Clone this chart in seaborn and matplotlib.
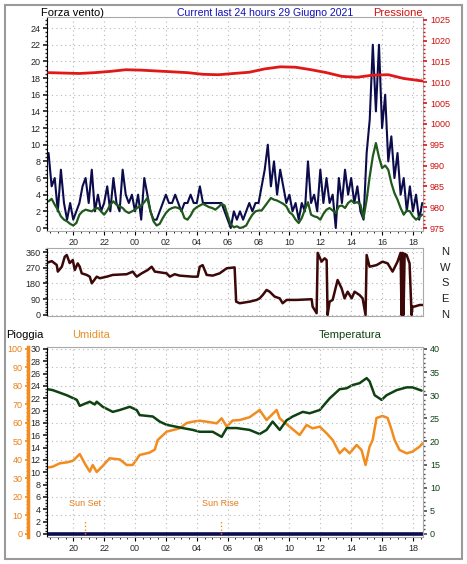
import numpy as np
import pandas as pd
import matplotlib
matplotlib.use("Agg")
import matplotlib.pyplot as plt
import matplotlib.transforms as mtransforms
from matplotlib.ticker import MultipleLocator
from matplotlib.patches import Rectangle
import seaborn as sns

sns.set_theme(style="white")
plt.rcParams["font.family"] = ["Liberation Sans", "DejaVu Sans"]

# ---- data (hours counted from midnight of 28 June, so 24 = 00:00 on the 29th)
wind_hours = np.linspace(18.4, 42.6, 122)
gust = [9, 5, 6, 2, 7, 3, 1, 3, 1, 2, 3, 5, 6, 3, 7, 2, 4, 2, 3, 5,
        2, 6, 3, 2, 7, 4, 3, 4, 2, 4, 1, 6, 4, 2, 1, 1, 2, 3, 4, 3,
        3, 4, 3, 2, 3, 3, 4, 3, 3, 5, 3, 3, 3, 3, 3, 3, 3, 2, 1, 0,
        2, 1, 2, 1, 2, 3, 2, 3, 3, 5, 7, 10, 5, 8, 4, 7, 5, 3, 4, 2,
        3, 1, 3, 2, 8, 3, 4, 2, 7, 3, 6, 3, 4, 0, 6, 3, 7, 4, 6, 3,
        5, 2, 1, 9, 13, 22, 14, 22, 12, 16, 8, 11, 6, 9, 4, 6, 2, 5, 2, 4,
        1, 3]
wind_avg = [3.2, 3.5, 2.8, 2.2, 1.4, 1.0, 0.8, 0.5, 0.3, 0.6, 1.6, 2.0, 2.2, 2.1, 2.0, 2.3, 2.4, 2.0, 1.6, 2.1,
            2.8, 3.2, 2.8, 2.6, 2.4, 2.0, 1.8, 2.0, 2.2, 2.5, 2.7, 3.1, 3.6, 2.0, 0.8, 0.3, 0.5, 1.2, 1.8, 2.2,
            2.4, 2.5, 2.4, 2.2, 1.2, 1.0, 1.5, 2.2, 2.5, 2.7, 2.9, 2.7, 2.5, 2.4, 2.2, 2.5, 2.9, 2.7, 1.5, 0.4,
            0.1, 0.2, 0.0, 0.1, 0.3, 1.0, 1.6, 2.0, 2.1, 2.1, 2.6, 3.1, 3.6, 3.4, 3.3, 3.1, 2.9, 2.6, 1.9, 1.6,
            1.0, 0.6, 1.2, 2.2, 3.1, 1.6, 1.4, 1.3, 1.0, 1.7, 2.2, 2.4, 2.1, 1.8, 2.6, 2.7, 2.4, 3.0, 3.3, 3.0,
            3.1, 2.8, 1.2, 3.4, 6.2, 8.6, 10.2, 8.5, 7.2, 7.5, 7.0, 5.4, 4.2, 3.4, 2.4, 1.6, 2.1, 2.0, 1.4, 1.0,
            1.3, 1.6]

press_hours = [18.4, 19.4, 20.4, 21.4, 22.4, 23.4, 24.4, 25.4, 26.4, 27.4, 28.4, 29.4, 30.4,
               31.4, 32.4, 33.4, 34.4, 35.4, 36.4, 37.4, 38.4, 39.4, 40.4, 41.4, 42.4, 42.6]
pressure = [1012.3, 1012.2, 1012.1, 1012.3, 1012.6, 1013.0, 1012.9, 1012.7, 1012.5, 1012.3, 1011.9,
            1011.8, 1012.1, 1012.4, 1013.2, 1013.7, 1013.6, 1013.0, 1012.3, 1011.4, 1011.2, 1011.7,
            1011.8, 1010.9, 1010.4, 1010.3]

dir_hours = [18.35, 18.61, 18.93, 19.0, 19.26, 19.45, 19.58, 19.77, 19.97, 20.1, 20.29, 20.42, 20.55,
             20.87, 21.07, 21.2, 21.52, 21.72, 22.17, 22.56, 23.46, 23.85, 24.11, 24.43, 24.82, 25.08,
             25.28, 26.05, 26.25, 26.57, 26.89, 27.74, 28.06, 28.19, 28.38, 28.64, 29.03, 29.48, 29.94,
             30.45, 30.55, 30.78, 31.42, 31.88, 32.07, 32.27, 32.52, 32.72, 33.04, 33.37, 33.56, 33.82,
             34.47, 35.44, 35.5, 35.76, 35.83, 36.08, 36.28, 36.41, 36.47, 36.6, 36.8, 37.12, 37.38,
             37.57, 37.77, 38.03, 38.22, 38.54, 38.74, 38.93, 39.0, 39.19, 39.64, 40.03, 40.36, 40.68,
             41.0, 41.2, 41.26, 41.33, 41.39, 41.46, 41.59, 41.78, 41.91, 41.97, 42.1, 42.43, 42.62]
dir_deg = [300, 308, 286, 248, 276, 333, 343, 297, 314, 257, 295, 276, 238, 229, 219, 181, 219, 210,
           219, 229, 233, 248, 219, 238, 257, 276, 248, 238, 219, 233, 225, 219, 219, 276, 285, 229,
           225, 238, 267, 272, 76, 67, 76, 86, 95, 114, 143, 133, 105, 95, 67, 86, 86, 90, 48, 10,
           355, 305, 324, 314, 0, 76, 86, 200, 152, 95, 133, 95, 133, 114, 95, 0, 343, 276, 285, 305,
           295, 248, 305, 355, 0, 355, 0, 350, 343, 295, 0, 48, 48, 57, 57]

temp_hours = [18.35, 18.67, 19.58, 20.23, 20.42, 21.07, 21.39, 21.52, 21.91, 22.56, 23.01, 23.66,
              24.11, 24.3, 25.15, 25.6, 26.05, 27.09, 27.74, 28.19, 29.03, 29.61, 29.94, 30.58,
              31.42, 32.07, 32.52, 32.91, 33.37, 33.82, 34.21, 34.86, 35.31, 35.96, 36.6, 37.25,
              37.7, 38.09, 38.54, 39.0, 39.19, 39.52, 39.97, 40.29, 40.94, 41.59, 41.97, 42.56]
temperature = [31.3, 31.1, 30.0, 29.0, 27.7, 28.6, 28.0, 28.6, 27.5, 26.4, 26.8, 27.5, 26.8, 25.7,
               25.4, 24.3, 23.6, 22.9, 22.5, 22.1, 22.1, 21.0, 22.9, 22.9, 22.5, 21.6, 22.5, 24.3,
               22.5, 24.6, 25.4, 26.4, 26.1, 26.8, 29.3, 31.3, 31.5, 32.2, 32.6, 33.7, 33.0, 30.0,
               29.0, 30.0, 31.1, 31.7, 31.7, 31.0]

hum_hours = [18.4, 18.67, 19.13, 19.58, 19.97, 20.42, 20.74, 21.07, 21.26, 21.52, 21.91, 22.36,
             23.01, 23.46, 23.85, 24.3, 24.95, 25.28, 25.47, 26.05, 26.89, 27.35, 27.74, 28.19,
             28.64, 29.29, 29.61, 29.94, 30.32, 30.78, 31.42, 32.07, 32.52, 33.17, 33.37, 34.01,
             34.66, 35.11, 35.5, 35.96, 36.41, 36.8, 37.25, 37.57, 37.9, 38.35, 38.67, 38.93,
             39.19, 39.39, 39.64, 40.03, 40.36, 40.62, 40.81, 41.13, 41.59, 41.97, 42.43, 42.62]
humidity = [36.0, 36.4, 38.2, 38.7, 39.5, 43.2, 38.2, 33.7, 37.3, 33.5, 36.8, 40.9, 40.3, 37.3,
            37.3, 42.7, 44.0, 45.6, 50.8, 55.3, 57.1, 60.0, 60.7, 61.2, 60.7, 59.8, 62.5, 58.0,
            61.3, 61.6, 63.1, 67.0, 61.6, 67.0, 62.5, 58.0, 53.5, 58.9, 57.1, 58.0, 54.4, 50.8,
            43.6, 46.3, 43.6, 48.1, 45.4, 37.3, 47.2, 50.8, 62.7, 63.8, 62.7, 56.2, 50.8, 45.4,
            43.6, 44.5, 47.2, 49.0]

rain_hours = [18.35, 42.65]
rain = [0, 0]

sun_hours = [20.74, 29.55]
sun_labels = ["Sun Set", "Sun Rise"]

hour_ticks = [20, 22, 24, 26, 28, 30, 32, 34, 36, 38, 40, 42]
hour_labels = ["20", "22", "00", "02", "04", "06", "08", "10", "12", "14", "16", "18"]
compass_deg = [360, 270, 180, 90, 0]
compass_labels = ["N", "W", "S", "E", "N"]

# ---- colours
NAVY = "#0c0c4c"
WGREEN = "#1f5a1c"
TGREEN = "#0f4212"
RED = "#e01818"
BROWN = "#3c0808"
ORANGE = "#f28c1e"
GRID = "#b8b8b8"
SPINE = "#a8a8a8"

W, H = 467, 564
fig = plt.figure(figsize=(W / 100, H / 100), dpi=100)
fig.patch.set_facecolor("white")

def box(left, top, right, bottom):
    return [left / W, 1 - bottom / H, (right - left) / W, (bottom - top) / H]

ax1 = fig.add_axes(box(47, 17, 423, 231))
ax1p = ax1.twinx()
ax2 = fig.add_axes(box(47, 248, 423, 316))
ax3 = fig.add_axes(box(47, 347, 423, 537))
ax3h = ax3.twinx()
ax3t = ax3.twinx()
ax3h.set_zorder(1)
ax3t.set_zorder(2)
ax3.set_zorder(3)
ax3.patch.set_visible(False)

xlim = (18.3, 42.65)
tick_fs = 6.5

def style_time_axis(ax, labels=True):
    ax.set_xlim(*xlim)
    ax.set_xticks(hour_ticks, hour_labels if labels else [])
    ax.xaxis.set_minor_locator(MultipleLocator(0.5))
    ax.tick_params(axis="x", which="major", direction="out", length=3, width=0.8,
                   color="black", labelsize=tick_fs, pad=2, bottom=True)
    ax.tick_params(axis="x", which="minor", direction="out", length=1.5, width=0.6,
                   color="black", bottom=True)
    ax.grid(True, which="major", axis="both", color=GRID, linestyle=(0, (1, 3)), linewidth=0.8)
    ax.set_axisbelow(True)
    for s in ax.spines.values():
        s.set_color(SPINE)
        s.set_linewidth(0.8)
    ax.spines["left"].set_color("black")
    ax.set_xlabel("")
    ax.set_ylabel("")

# ---- panel 1: wind + pressure
sns.lineplot(x=wind_hours, y=gust, ax=ax1, color=NAVY, linewidth=1.5, estimator=None)
sns.lineplot(x=wind_hours, y=wind_avg, ax=ax1, color=WGREEN, linewidth=1.6, estimator=None)
style_time_axis(ax1)
ax1.set_ylim(-0.36, 25.33)
ax1.set_yticks(range(0, 25, 2))
ax1.yaxis.set_minor_locator(MultipleLocator(0.5))
ax1.tick_params(axis="y", which="major", direction="out", length=3, labelsize=tick_fs, pad=1.5, left=True)
ax1.tick_params(axis="y", which="minor", direction="out", length=1.5, left=True)

sns.lineplot(x=press_hours, y=pressure, ax=ax1p, color=RED, linewidth=2.0, estimator=None)
ax1p.set_ylim(975 + 2 * -0.36, 975 + 2 * 25.33)
ax1p.set_yticks(range(975, 1026, 5))
ax1p.yaxis.set_minor_locator(MultipleLocator(1))
ax1p.tick_params(axis="y", which="major", direction="out", length=3, color=RED,
                 labelcolor="#cc1010", labelsize=tick_fs, pad=2, right=True)
ax1p.tick_params(axis="y", which="minor", direction="out", length=1.5, color=RED, right=True)
ax1p.set_ylabel("")
for s in ax1p.spines.values():
    s.set_visible(False)

# ---- panel 2: wind direction
sns.lineplot(x=dir_hours, y=dir_deg, ax=ax2, color=BROWN, linewidth=1.8,
             estimator=None, sort=False)
style_time_axis(ax2, labels=False)
ax2.tick_params(axis="x", which="both", length=0)
ax2.set_ylim(-6, 383)
ax2.set_yticks([0, 90, 180, 270, 360])
ax2.yaxis.set_minor_locator(MultipleLocator(15))
ax2.tick_params(axis="y", which="major", direction="out", length=3, labelsize=tick_fs, pad=1.5, left=True)
ax2.tick_params(axis="y", which="minor", direction="out", length=1.5, left=True)
comp_tr = mtransforms.blended_transform_factory(ax2.transAxes, ax2.transData)
for d, lab in zip(compass_deg, compass_labels):
    ax2.text(1.058, d, lab, transform=comp_tr, ha="center", va="center",
             fontsize=8, color="#202020")

# ---- panel 3: rain, humidity, temperature
sns.lineplot(x=hum_hours, y=humidity, ax=ax3h, color=ORANGE, linewidth=1.8, estimator=None)
sns.lineplot(x=temp_hours, y=temperature, ax=ax3t, color=TGREEN, linewidth=1.8, estimator=None)
sns.lineplot(x=rain_hours, y=rain, ax=ax3, color=NAVY, linewidth=2.6, estimator=None)

style_time_axis(ax3)
ax3.grid(False, axis="y")
ax3.set_ylim(-0.49, 30.32)
ax3.set_yticks(range(0, 31, 2))
ax3.yaxis.set_minor_locator(MultipleLocator(0.5))
ax3.tick_params(axis="y", which="major", direction="out", length=3, labelsize=tick_fs, pad=1.5, left=True)
ax3.tick_params(axis="y", which="minor", direction="out", length=1.5, left=True)

ax3h.set_xlim(*xlim)
ax3h.set_ylim(-0.49 * 100 / 30, 30.32 * 100 / 30)
ax3h.yaxis.tick_left()
ax3h.set_yticks(range(0, 101, 10))
ax3h.yaxis.set_minor_locator(MultipleLocator(2))
ax3h.grid(True, axis="y", color=GRID, linestyle=(0, (1, 3)), linewidth=0.8)
ax3h.tick_params(axis="y", which="major", direction="out", length=2.5, color=ORANGE,
                 labelcolor="#e8801a", labelsize=tick_fs, pad=1.5)
ax3h.tick_params(axis="y", which="minor", direction="out", length=1.2, color=ORANGE)
for s in ax3h.spines.values():
    s.set_visible(False)
ax3h.spines["left"].set_visible(True)
ax3h.spines["left"].set_position(("outward", 13.5))
ax3h.spines["left"].set_color(ORANGE)
ax3h.spines["left"].set_linewidth(2.5)
ax3h.set_ylabel("")

ax3t.set_xlim(*xlim)
ax3t.set_ylim(-0.49 * 40 / 30, 30.32 * 40 / 30)
ax3t.set_yticks(range(0, 41, 5))
ax3t.yaxis.set_minor_locator(MultipleLocator(1))
ax3t.tick_params(axis="y", which="major", direction="out", length=3, color="#505050",
                 labelcolor=TGREEN, labelsize=tick_fs, pad=2)
ax3t.tick_params(axis="y", which="minor", direction="out", length=1.5, color="#505050")
for s in ax3t.spines.values():
    s.set_visible(False)
ax3t.set_ylabel("")

ax3.vlines(sun_hours, 0, 2.1, colors=ORANGE, linestyles=":", linewidth=1)
for h, lab in zip(sun_hours, sun_labels):
    ax3.text(h, 4.9, lab, ha="center", va="center", fontsize=6.5, color="#e07a1a")

# ---- titles
def ftext(x, y, s, **kw):
    fig.text(x / W, 1 - y / H, s, va="baseline", **kw)

ftext(41, 16, "Forza vento)", fontsize=8, color="black")
ftext(265, 16, "Current last 24 hours 29 Giugno 2021", fontsize=7.6, color="#1010b8", ha="center")
ftext(423, 16, "Pressione", fontsize=8, color="#d81010", ha="right")
ftext(6, 338, "Pioggia", fontsize=8, color="black")
ftext(72, 338, "Umidita", fontsize=8, color="#e8902a")
ftext(319, 338, "Temperatura", fontsize=8, color=TGREEN)

fig.patches.append(Rectangle((5 / W, 1 - 559 / H), 457 / W, 554 / H, transform=fig.transFigure,
                             fill=False, edgecolor="#9a9a9a", linewidth=1.5))

fig.savefig("out.png", dpi=100, facecolor="white")
